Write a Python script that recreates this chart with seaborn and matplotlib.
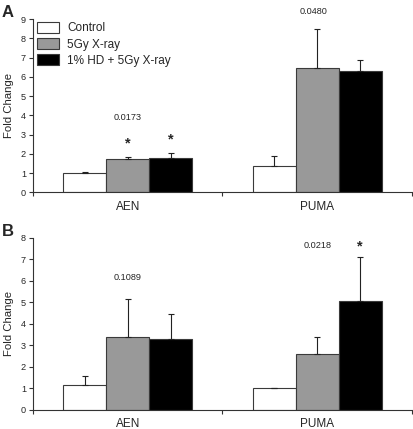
import numpy as np
import pandas as pd
import matplotlib.pyplot as plt
import seaborn as sns
from matplotlib.patches import Patch

# categories / groups
genes = ["AEN", "PUMA"]
groups = ["Control", "5Gy X-ray", "1% HD + 5Gy X-ray"]
colors = ["white", "#999999", "black"]

# panel A: means and upper error (rows = groups, cols = genes)
a_control = [1.02, 1.37]
a_xray = [1.72, 6.45]
a_hd = [1.80, 6.30]
a_control_err = [0.03, 0.53]
a_xray_err = [0.13, 2.03]
a_hd_err = [0.23, 0.57]
a_pvals = ["0.0173", "0.0480"]

# panel B
b_control = [1.15, 1.00]
b_xray = [3.40, 2.62]
b_hd = [3.31, 5.06]
b_control_err = [0.45, 0.04]
b_xray_err = [1.75, 0.75]
b_hd_err = [1.15, 2.04]
b_pvals = ["0.1089", "0.0218"]

sns.set_style("ticks")
plt.rcParams['font.family'] = ['Liberation Sans', 'DejaVu Sans']


def make_df(ctrl, xray, hd):
    rows = []
    for g, vals in zip(groups, [ctrl, xray, hd]):
        for gene, v in zip(genes, vals):
            rows.append({"gene": gene, "group": g, "fold": v})
    return pd.DataFrame(rows)


def draw_panel(ax, df, errs, ymax, pvals, p_pos, stars):
    sns.barplot(data=df, x="gene", y="fold", hue="group", hue_order=groups,
                palette=colors, width=0.68, errorbar=None, edgecolor="#3a3a3a",
                linewidth=0.8, legend=False, ax=ax)
    bar_sets = list(ax.containers)
    for i, cont in enumerate(bar_sets):
        for j, bar in enumerate(cont):
            x = bar.get_x() + bar.get_width() / 2
            y = bar.get_height()
            ax.errorbar(x, y, yerr=[[0], [errs[i][j]]], fmt="none", ecolor="#222222",
                        elinewidth=0.8, capsize=2.2, capthick=0.8)
            if (i, j) in stars:
                ax.text(x, y + errs[i][j] + stars[(i, j)], "*", ha="center", va="center",
                        fontsize=10.5, fontweight="bold")
    for p, (px, py) in zip(pvals, p_pos):
        ax.text(px, py, p, ha="center", va="center", fontsize=6.6)
    ax.set_xlim(-0.5, 1.5)
    ax.set_ylim(0, ymax)
    ax.set_yticks(range(0, ymax + 1))
    ax.set_xticks([0, 1])
    ax.set_xticklabels(genes, fontsize=8.5)
    ax.set_xticks([-0.5, 0.5, 1.5], minor=True)
    ax.tick_params(axis="x", which="major", length=0, pad=6)
    ax.tick_params(axis="x", which="minor", length=3, width=0.8, color="#333333")
    ax.tick_params(axis="y", length=3, width=0.8, labelsize=6.6, pad=2, color="#333333")
    ax.set_xlabel("")
    ax.set_ylabel("Fold Change", fontsize=8.2, labelpad=5)
    sns.despine(ax=ax)
    for s in ["left", "bottom"]:
        ax.spines[s].set_linewidth(0.8)
        ax.spines[s].set_color("#333333")


fig = plt.figure(figsize=(4.14, 4.29), dpi=100)
ax1 = fig.add_axes([0.0797, 0.5517, 0.9153, 0.404])
ax2 = fig.add_axes([0.0797, 0.0443, 0.9153, 0.4016])

df_a = make_df(a_control, a_xray, a_hd)
df_b = make_df(b_control, b_xray, b_hd)

draw_panel(ax1, df_a, [a_control_err, a_xray_err, a_hd_err], 9, a_pvals,
           [(0.0, 3.9), (0.98, 9.4)], {(1, 0): 0.7, (2, 0): 0.69})
draw_panel(ax2, df_b, [b_control_err, b_xray_err, b_hd_err], 8, b_pvals,
           [(0.0, 6.16), (1.0, 7.65)], {(2, 1): 0.5})

handles = [Patch(facecolor=c, edgecolor="#3a3a3a", linewidth=0.8) for c in colors]
ax1.legend(handles, groups, loc="upper left", bbox_to_anchor=(0.01, 0.985), frameon=False,
           fontsize=8.5, handlelength=1.85, handleheight=1.1, labelspacing=0.3,
           handletextpad=0.75, borderpad=0, borderaxespad=0)

fig.text(0.005, 0.988, "A", fontsize=12, fontweight="bold", va="top", ha="left")
fig.text(0.005, 0.478, "B", fontsize=12, fontweight="bold", va="top", ha="left")

fig.savefig("out.png", dpi=100)
